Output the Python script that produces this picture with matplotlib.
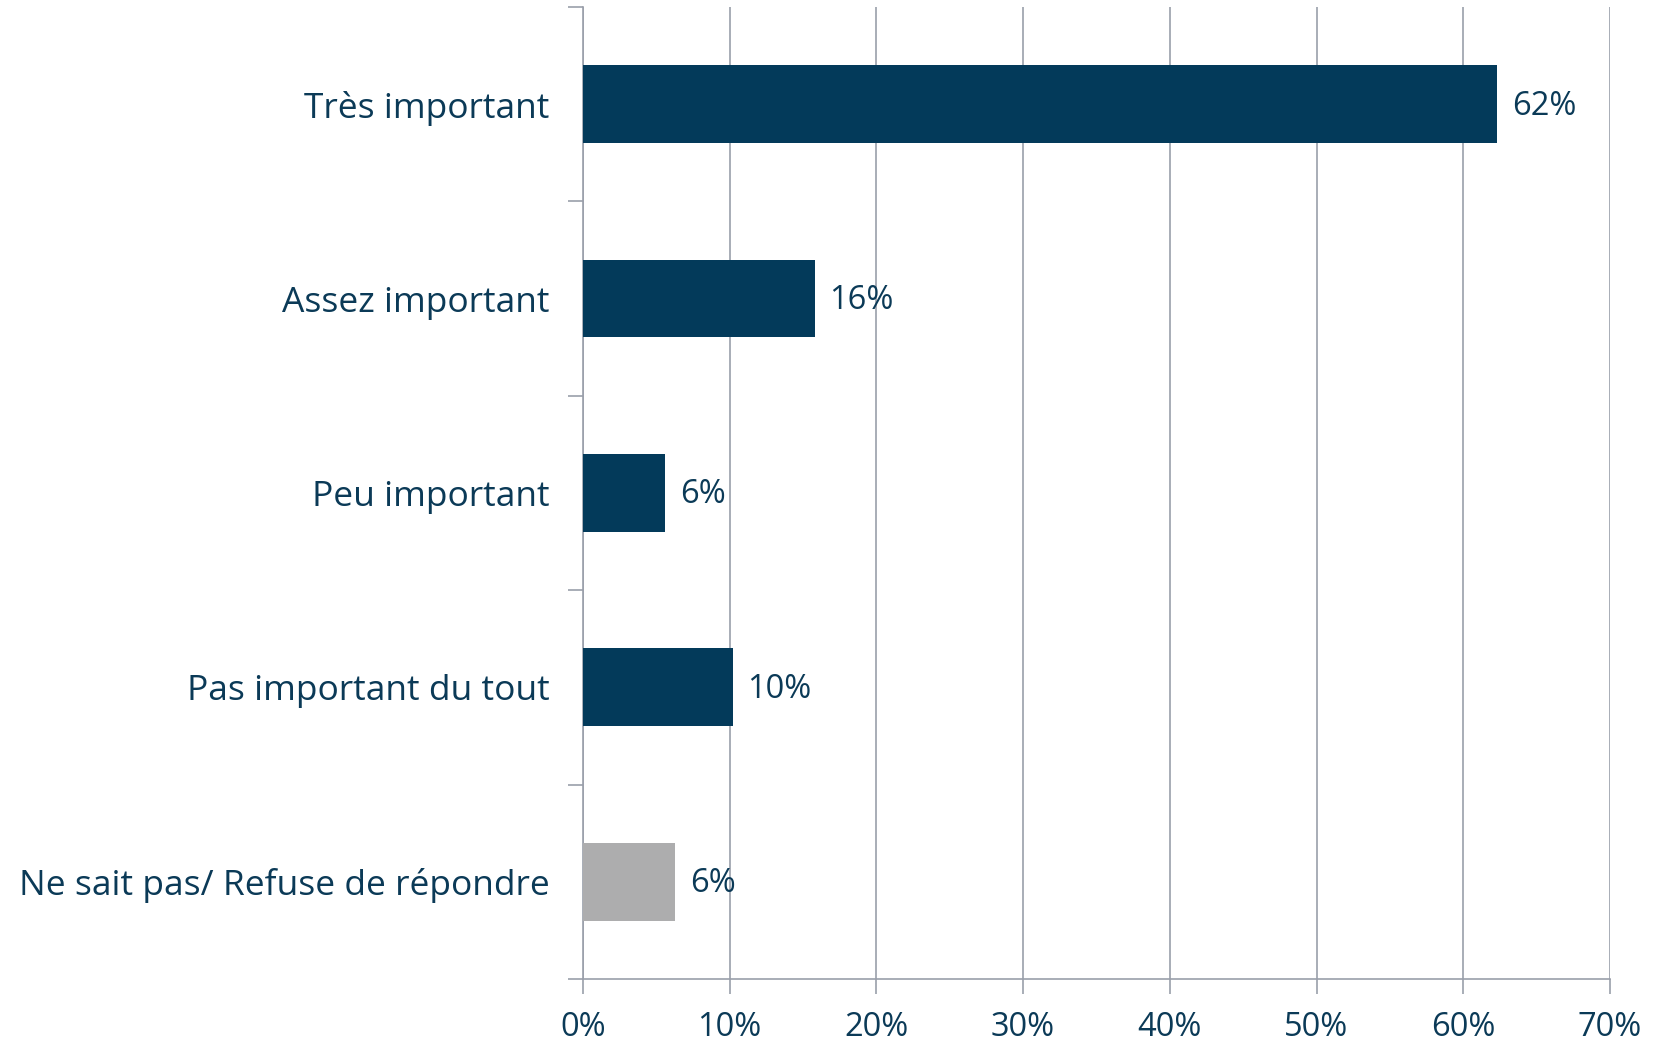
import matplotlib
matplotlib.use("Agg")
import matplotlib.pyplot as plt
import numpy as np

categories = ["Très important", "Assez important", "Peu important",
              "Pas important du tout", "Ne sait pas/ Refuse de répondre"]
values = [62.3, 15.8, 5.6, 10.2, 6.3]
labels = ["62%", "16%", "6%", "10%", "6%"]
colors = ["#033A5A", "#033A5A", "#033A5A", "#033A5A", "#ADADAE"]
xticks = [0, 10, 20, 30, 40, 50, 60, 70]
xticklabels = ["0%", "10%", "20%", "30%", "40%", "50%", "60%", "70%"]

text_color = "#0B3A57"
grid_color = "#9A9FAA"
font = "Open Sans"

fig = plt.figure(figsize=(16.56, 10.43), dpi=100)
ax = fig.add_axes([0.352, 0.0614, 0.9722 - 0.352, 0.9933 - 0.0614])

y = np.arange(len(categories))
ax.barh(y, values, height=0.40, color=colors, zorder=3)
for yi, v, lab in zip(y, values, labels):
    ax.text(v + 1.0, yi + 0.01, lab, va="center", ha="left", fontsize=23.5,
            color=text_color, family=font)

ax.set_ylim(len(categories) - 0.5, -0.5)
ax.set_xlim(0, 70)
ax.set_yticks(y)
ax.set_yticklabels(categories, fontsize=25.5, color=text_color, family=font)
ax.set_yticks(np.arange(-0.5, len(categories), 1.0), minor=True)
ax.tick_params(axis="y", which="major", length=0, pad=24)
ax.tick_params(axis="y", which="minor", length=11, color=grid_color, width=1.2)

ax.set_xticks(xticks)
ax.set_xticklabels(xticklabels, fontsize=23.5, color=text_color, family=font)
ax.tick_params(axis="x", length=11, color=grid_color, width=1.2, pad=12)

ax.grid(axis="x", color=grid_color, linewidth=1.2, zorder=0)
for s in ["top", "right"]:
    ax.spines[s].set_visible(False)
for s in ["left", "bottom"]:
    ax.spines[s].set_color(grid_color)
    ax.spines[s].set_linewidth(1.2)

fig.savefig("out.png", dpi=100)
